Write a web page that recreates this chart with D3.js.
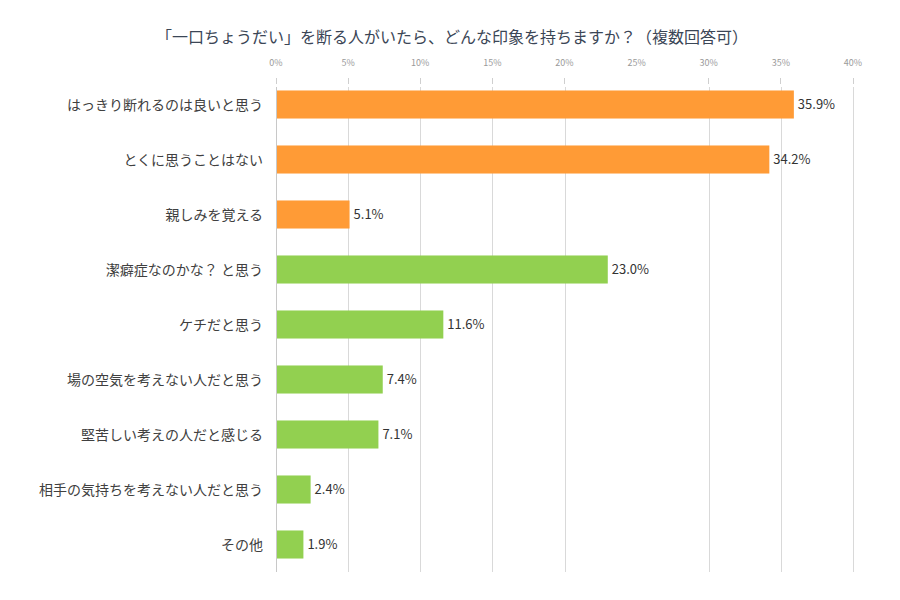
<!DOCTYPE html>
<html><head><meta charset="utf-8">
<script src="https://cdn.jsdelivr.net/npm/d3@7"></script>
<style>body{margin:0;background:#fff;} svg{display:block;}</style>
</head><body>
<svg id="c" width="900" height="600"></svg>
<script>
const title = "「一口ちょうだい」を断る人がいたら、どんな印象を持ちますか？（複数回答可）";
const categories = ["はっきり断れるのは良いと思う","とくに思うことはない","親しみを覚える","潔癖症なのかな？ と思う","ケチだと思う","場の空気を考えない人だと思う","堅苦しい考えの人だと感じる","相手の気持ちを考えない人だと思う","その他"];
const values = [35.9, 34.2, 5.1, 23.0, 11.6, 7.4, 7.1, 2.4, 1.9];
const groups = ["positive","positive","positive","negative","negative","negative","negative","negative","negative"];
const tickValues = [0,5,10,15,20,25,30,35,40];
const gridTicks = [5,10,15,20,30,35,40];
const colors = {positive:"#FF9B36", negative:"#92D050"};

const svg = d3.select("#c");
const font = "'Noto Sans CJK JP','Noto Sans',sans-serif";
const x = d3.scaleLinear().domain([0,40]).range([276,853]);
const y = d3.scaleBand().domain(categories).range([77,572]).paddingInner(0.49).paddingOuter(0.245);

svg.append("text").attr("x",452).attr("y",43).attr("text-anchor","middle")
  .attr("font-family",font).attr("font-size",16).attr("fill","#3b4656").text(title);

// top tick labels
svg.append("g").selectAll("text").data(tickValues).join("text")
  .attr("x",d=>x(d)).attr("y",66).attr("text-anchor","middle")
  .attr("font-family",font).attr("font-size",9).attr("fill","#9a9a9a").text(d=>d+"%");

// small tick marks
svg.append("g").selectAll("line").data(tickValues.filter(d=>d!==25)).join("line")
  .attr("x1",d=>x(d)).attr("x2",d=>x(d)).attr("y1",78).attr("y2",84)
  .attr("stroke","#cfcfcf").attr("stroke-width",1).attr("shape-rendering","crispEdges");

// grid lines
svg.append("g").selectAll("line").data(gridTicks).join("line")
  .attr("x1",d=>Math.round(x(d))+0.5).attr("x2",d=>Math.round(x(d))+0.5).attr("y1",87).attr("y2",572)
  .attr("stroke","#d9d9d9").attr("stroke-width",1);

// axis line
svg.append("line").attr("x1",276.5).attr("x2",276.5).attr("y1",87).attr("y2",572)
  .attr("stroke","#c8c8c8").attr("stroke-width",1);

// bars
svg.append("g").selectAll("rect").data(values).join("rect")
  .attr("x",x(0)+1).attr("y",(d,i)=>y(categories[i])).attr("height",y.bandwidth())
  .attr("width",d=>x(d)-x(0)-1).attr("fill",(d,i)=>colors[groups[i]]);

// value labels
svg.append("g").selectAll("text").data(values).join("text")
  .attr("x",d=>x(d)+4).attr("y",(d,i)=>y(categories[i])+y.bandwidth()/2+4.5)
  .attr("font-family",font).attr("font-size",13).attr("fill","#333")
  .text(d=>d.toFixed(1)+"%");

// category labels
svg.append("g").selectAll("text").data(categories).join("text")
  .attr("x",263).attr("y",d=>y(d)+y.bandwidth()/2+5)
  .attr("text-anchor","end").attr("font-family",font).attr("font-size",14).attr("fill","#404040")
  .text(d=>d);
</script>
</body></html>
